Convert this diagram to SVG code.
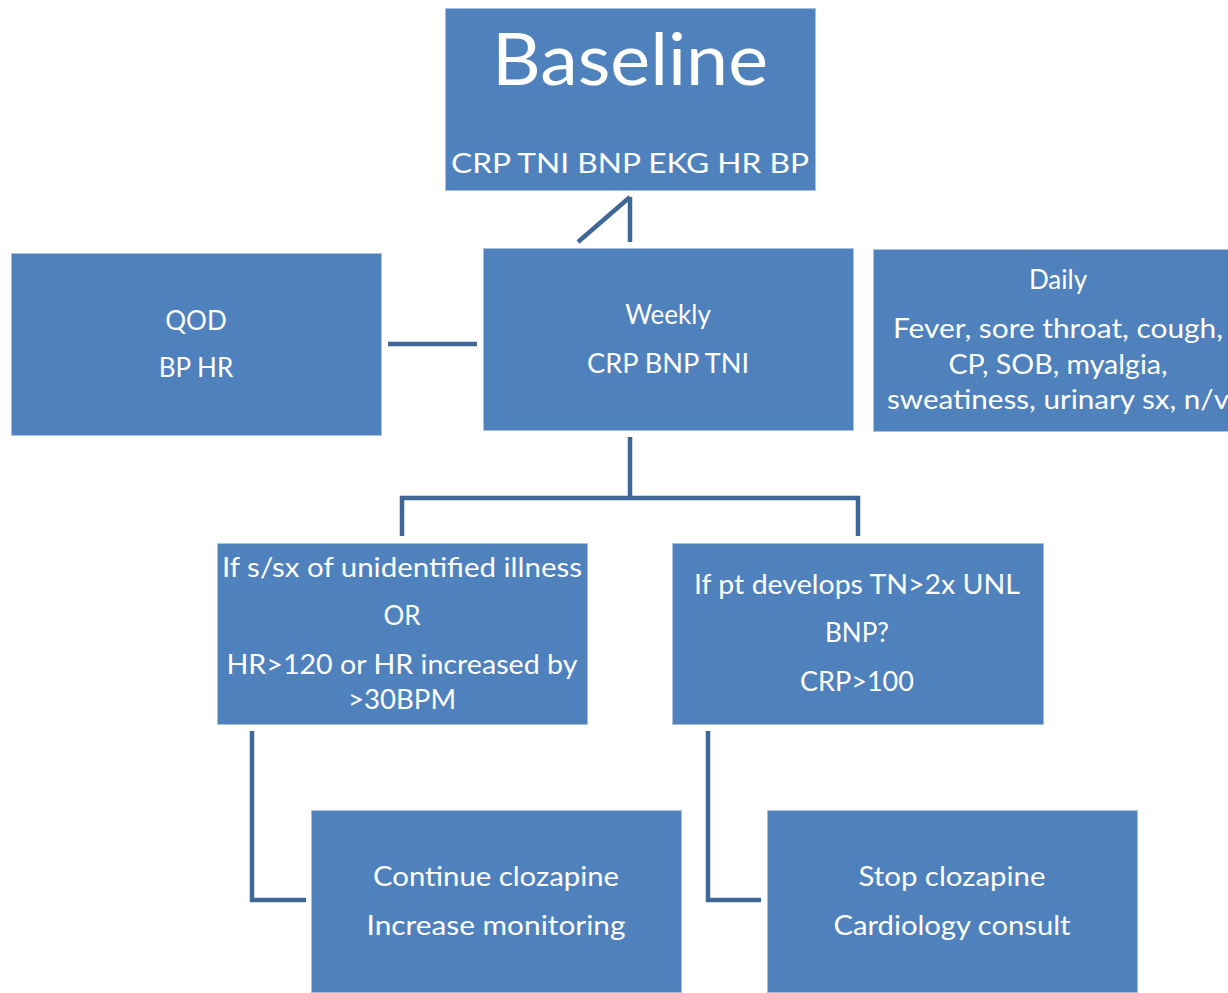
<svg xmlns="http://www.w3.org/2000/svg" width="1228" height="993" viewBox="0 0 1228 993">
<style>
.box{fill:#4F81BD;stroke:#A9C0DF;stroke-width:1}
.t{font-family:Lato,"Open Sans","Liberation Sans",sans-serif;fill:#fff;text-anchor:middle;font-size:26px}
.big{font-size:72px}
.c{fill:none;stroke:#3E6697;stroke-width:4.5;stroke-linejoin:miter}
</style>
<rect width="1228" height="993" fill="#fff"/>
<g id="connectors">
<path class="c" d="M630,197 V242 M630,197 L578,242"/>
<path class="c" d="M388,344 H477"/>
<path class="c" d="M630,437 V498 M402,536 V498 H858 V536"/>
<path class="c" d="M252,731 V900 H306"/>
<path class="c" d="M708,731 V900 H761"/>
</g>
<g id="baseline">
<rect class="box" x="445.5" y="8.5" width="370" height="182"/>
<text class="t big" x="630" y="85" textLength="276" lengthAdjust="spacingAndGlyphs">Baseline</text>
<text class="t" x="630" y="173" font-size="31" textLength="358" lengthAdjust="spacingAndGlyphs">CRP TNI BNP EKG HR BP</text>
</g>
<g id="qod">
<rect class="box" x="11.5" y="253.5" width="370" height="182"/>
<text class="t" x="196" y="330">QOD</text>
<text class="t" x="196" y="377">BP HR</text>
</g>
<g id="weekly">
<rect class="box" x="483.5" y="248.5" width="370" height="182"/>
<text class="t" x="668" y="324">Weekly</text>
<text class="t" x="668" y="373" textLength="162" lengthAdjust="spacingAndGlyphs">CRP BNP TNI</text>
</g>
<g id="daily">
<rect class="box" x="873.5" y="249.5" width="370" height="182"/>
<text class="t" x="1058" y="289">Daily</text>
<text class="t" x="1058" y="338" textLength="330" lengthAdjust="spacingAndGlyphs">Fever, sore throat, cough,</text>
<text class="t" x="1058" y="374" textLength="219" lengthAdjust="spacingAndGlyphs">CP, SOB, myalgia,</text>
<text class="t" x="1058" y="409" textLength="342" lengthAdjust="spacingAndGlyphs">sweatiness, urinary sx, n/v</text>
</g>
<g id="illness">
<rect class="box" x="217.5" y="543.5" width="370" height="181"/>
<text class="t" x="402" y="577" textLength="360" lengthAdjust="spacingAndGlyphs">If s/sx of unidentified illness</text>
<text class="t" x="402" y="625">OR</text>
<text class="t" x="402" y="674" textLength="351" lengthAdjust="spacingAndGlyphs">HR&gt;120 or HR increased by</text>
<text class="t" x="402" y="709" textLength="108" lengthAdjust="spacingAndGlyphs">&gt;30BPM</text>
</g>
<g id="tn">
<rect class="box" x="672.5" y="543.5" width="371" height="181"/>
<text class="t" x="857" y="594" textLength="326" lengthAdjust="spacingAndGlyphs">If pt develops TN&gt;2x UNL</text>
<text class="t" x="857" y="642">BNP?</text>
<text class="t" x="857" y="691" textLength="114" lengthAdjust="spacingAndGlyphs">CRP&gt;100</text>
</g>
<g id="continue">
<rect class="box" x="311.5" y="810.5" width="370" height="182"/>
<text class="t" x="496" y="886" textLength="246" lengthAdjust="spacingAndGlyphs">Continue clozapine</text>
<text class="t" x="496" y="935" textLength="259" lengthAdjust="spacingAndGlyphs">Increase monitoring</text>
</g>
<g id="stop">
<rect class="box" x="767.5" y="810.5" width="370" height="182"/>
<text class="t" x="952" y="886" textLength="187" lengthAdjust="spacingAndGlyphs">Stop clozapine</text>
<text class="t" x="952" y="935" textLength="237" lengthAdjust="spacingAndGlyphs">Cardiology consult</text>
</g>
</svg>
